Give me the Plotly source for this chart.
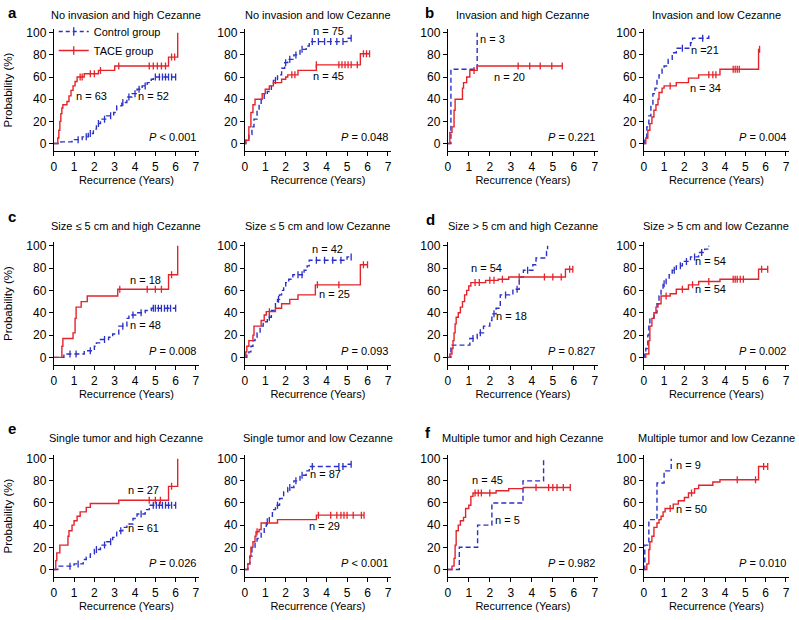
import plotly.graph_objects as go

# ---------------- data ----------------
titles = ["No invasion and high Cezanne", "No invasion and low Cezanne",
          "Invasion and high Cezanne", "Invasion and low Cezanne",
          "Size ≤ 5 cm and high Cezanne", "Size ≤ 5 cm and low Cezanne",
          "Size > 5 cm and high Cezanne", "Size > 5 cm and low Cezanne",
          "Single tumor and high Cezanne", "Single tumor and low Cezanne",
          "Multiple tumor and high Cezanne", "Multiple tumor and low Cezanne"]
p_values = ["<i>P</i> &lt; 0.001", "<i>P</i> = 0.048", "<i>P</i> = 0.221", "<i>P</i> = 0.004",
            "<i>P</i> = 0.008", "<i>P</i> = 0.093", "<i>P</i> = 0.827", "<i>P</i> = 0.002",
            "<i>P</i> = 0.026", "<i>P</i> &lt; 0.001", "<i>P</i> = 0.982", "<i>P</i> = 0.010"]
panel_letters = ["a", "b", "c", "d", "e", "f"]
x_ticks = [0, 1, 2, 3, 4, 5, 6, 7]
y_ticks = [0, 20, 40, 60, 80, 100]

# Control group (blue) / TACE group (red): event times, cumulative probability (%), censor times
A1_ctrl_t = [0.35, 0.9, 1.4, 1.7, 1.95, 2.1, 2.3, 2.6, 2.95, 3.1, 3.35, 3.6, 3.85, 4.1, 4.35, 4.6, 4.8, 4.9]
A1_ctrl_p = [1.5, 3.5, 6, 9, 13, 18, 22, 25, 28, 34, 37, 42, 45, 49, 52, 55, 58, 60]
A1_ctrl_c = [1.2, 1.6, 1.8, 2.2, 2.5, 2.8, 3.4, 3.7, 4.0, 4.2, 4.5, 5.0, 5.2, 5.35, 5.5, 5.65, 5.8, 6.0]
A1_tace_t = [0.2, 0.25, 0.3, 0.35, 0.4, 0.45, 0.65, 0.75, 0.85, 0.95, 1.05, 1.15, 1.5, 2.2, 3.0, 5.65, 6.1]
A1_tace_p = [5, 12, 20, 27, 32, 35, 38, 43, 48, 52, 56, 60, 63, 66, 70, 78, 100]
A1_tace_c = [1.3, 1.4, 1.8, 2.0, 2.3, 3.2, 4.7, 4.9, 5.1, 5.3, 5.5, 5.8, 5.95]

A2_ctrl_t = [0.05, 0.2, 0.35, 0.45, 0.6, 0.7, 0.8, 0.95, 1.1, 1.3, 1.4, 1.6, 1.8, 1.95, 2.1, 2.4, 2.7, 3.0, 3.15, 5.0]
A2_ctrl_p = [3, 8, 15, 22, 30, 35, 40, 44, 47, 52, 57, 62, 68, 73, 76, 80, 85, 88, 92, 95]
A2_ctrl_c = [1.5, 2.0, 2.2, 2.5, 2.8, 3.3, 3.6, 3.9, 4.2, 4.5, 4.8, 5.2]
A2_tace_t = [0.05, 0.2, 0.3, 0.4, 0.5, 0.85, 1.0, 1.2, 1.4, 1.8, 2.0, 2.1, 2.6, 3.5, 5.65]
A2_tace_p = [3, 15, 28, 35, 40, 45, 49, 52, 55, 58, 60, 62, 66, 71, 81]
A2_tace_c = [2.3, 2.45, 3.5, 4.6, 4.75, 4.9, 5.05, 5.2, 5.5, 5.8, 5.95, 6.1]

B1_ctrl_t = [0.15, 1.4]
B1_ctrl_p = [67, 100]
B1_ctrl_c = []
B1_tace_t = [0.1, 0.2, 0.3, 0.35, 0.7, 0.75, 0.9, 1.05, 1.4]
B1_tace_p = [10, 15, 30, 40, 50, 55, 60, 66, 70]
B1_tace_c = [1.25, 3.35, 3.9, 4.4, 4.95, 5.45]

B2_ctrl_t = [0.05, 0.15, 0.25, 0.35, 0.45, 0.55, 0.65, 0.75, 0.9, 1.0, 1.2, 1.4, 1.6, 2.3, 2.4, 3.2]
B2_ctrl_p = [5, 15, 25, 35, 45, 50, 57, 62, 67, 70, 76, 82, 86, 91, 95, 100]
B2_ctrl_c = [1.9, 2.9]
B2_tace_t = [0.1, 0.2, 0.3, 0.4, 0.5, 0.6, 0.7, 0.75, 0.9, 1.0, 1.6, 2.2, 2.7, 3.75, 5.65]
B2_tace_p = [5, 12, 18, 24, 30, 35, 40, 46, 50, 52, 55, 59, 62, 67, 85]
B2_tace_c = [1.3, 3.2, 3.4, 3.55, 4.4, 4.5, 4.6, 4.7, 5.7]

C1_ctrl_t = [0.5, 0.6, 1.5, 2.0, 2.1, 2.3, 2.7, 2.9, 3.2, 3.6, 3.7, 4.1, 4.5, 4.8]
C1_ctrl_p = [2, 3, 6, 10, 13, 16, 18, 21, 28, 35, 38, 40, 42, 44]
C1_ctrl_c = [0.8, 1.1, 1.8, 2.5, 3.4, 3.9, 4.3, 4.9, 5.0, 5.15, 5.3, 5.45, 5.6, 5.75, 6.0]
C1_tace_t = [0.4, 0.45, 0.95, 1.05, 1.1, 1.35, 1.65, 3.15, 5.65, 6.1]
C1_tace_p = [10, 17, 22, 35, 45, 50, 55, 61, 74, 100]
C1_tace_c = [3.25, 4.6, 5.0, 5.3, 5.8]

C2_ctrl_t = [0.1, 0.2, 0.3, 0.4, 0.5, 0.6, 0.75, 0.9, 1.1, 1.3, 1.5, 1.6, 1.7, 1.8, 1.9, 2.0, 2.15, 2.35, 2.9, 3.05, 3.15, 5.0]
C2_ctrl_p = [2, 5, 10, 15, 18, 22, 28, 32, 36, 42, 48, 52, 56, 60, 64, 67, 70, 74, 78, 82, 87, 90]
C2_ctrl_c = [1.2, 1.65, 2.6, 2.8, 3.5, 3.9, 4.3, 4.7, 5.2]
C2_tace_t = [0.05, 0.1, 0.2, 0.4, 0.45, 0.8, 0.95, 1.05, 1.5, 1.8, 2.2, 2.6, 3.45, 5.65]
C2_tace_p = [5, 10, 15, 20, 28, 33, 38, 41, 44, 48, 52, 56, 65, 83]
C2_tace_c = [1.2, 3.55, 4.6, 5.8, 6.0]

D1_ctrl_t = [0.15, 1.05, 1.4, 1.7, 2.0, 2.1, 2.3, 2.5, 3.1, 3.4, 3.6, 4.05, 4.2, 4.7, 4.75]
D1_ctrl_p = [11, 17, 22, 28, 33, 39, 44, 56, 61, 72, 78, 83, 89, 95, 100]
D1_ctrl_c = [1.2, 1.55, 2.2, 2.75, 3.3, 3.8]
D1_tace_t = [0.1, 0.2, 0.25, 0.3, 0.35, 0.4, 0.5, 0.6, 0.7, 0.8, 0.9, 1.0, 1.1, 1.8, 2.4, 2.9, 5.6]
D1_tace_p = [3, 8, 15, 22, 30, 36, 40, 45, 50, 56, 60, 64, 67, 69, 70, 72, 79]
D1_tace_c = [1.3, 1.5, 2.0, 2.2, 2.6, 3.4, 4.6, 5.0, 5.4, 5.8, 5.95]

D2_ctrl_t = [0.05, 0.1, 0.2, 0.25, 0.3, 0.5, 0.65, 0.75, 0.85, 0.95, 1.1, 1.25, 1.4, 1.6, 1.9, 2.3, 2.7, 3.0, 3.2]
D2_ctrl_p = [4, 8, 20, 30, 35, 40, 48, 55, 60, 66, 70, 74, 78, 82, 86, 90, 94, 97, 100]
D2_ctrl_c = [1.0, 1.5, 1.8, 2.1, 2.5, 2.85]
D2_tace_t = [0.1, 0.25, 0.3, 0.4, 0.5, 0.6, 0.7, 0.85, 1.3, 1.6, 2.2, 2.7, 3.75, 5.65]
D2_tace_p = [3, 15, 28, 35, 40, 45, 48, 55, 57, 61, 65, 68, 70, 79]
D2_tace_c = [1.1, 1.9, 2.4, 3.2, 4.4, 4.5, 4.6, 4.75, 4.9, 5.8, 6.1]

E1_ctrl_t = [0.2, 1.0, 1.45, 1.6, 1.8, 2.0, 2.3, 2.6, 2.9, 3.1, 3.4, 3.6, 3.9, 4.1, 4.5, 4.7]
E1_ctrl_p = [3, 5, 9, 11, 14, 18, 22, 25, 29, 35, 38, 41, 46, 50, 54, 58]
E1_ctrl_c = [0.8, 1.2, 2.1, 2.5, 2.8, 3.3, 4.3, 4.9, 5.05, 5.2, 5.35, 5.5, 5.65, 5.8, 6.0]
E1_tace_t = [0.1, 0.15, 0.3, 0.7, 0.75, 0.9, 1.0, 1.15, 1.3, 1.6, 1.8, 3.2, 5.65, 6.1]
E1_tace_p = [8, 15, 22, 30, 35, 40, 44, 48, 52, 56, 59.5, 62.5, 75, 100]
E1_tace_c = [4.7, 5.0, 5.25, 5.8]

E2_ctrl_t = [0.15, 0.25, 0.35, 0.5, 0.6, 0.8, 0.95, 1.05, 1.2, 1.35, 1.5, 1.7, 1.9, 2.1, 2.4, 2.7, 3.0, 3.15, 5.0]
E2_ctrl_p = [5, 12, 20, 25, 28, 33, 38, 43, 48, 54, 58, 64, 70, 74, 80, 85, 89, 93, 95]
E2_ctrl_c = [1.1, 1.6, 2.2, 2.5, 2.8, 3.3, 4.6, 4.8, 5.2]
E2_tace_t = [0.15, 0.25, 0.3, 0.4, 0.5, 0.55, 0.7, 0.8, 1.6, 3.5]
E2_tace_p = [5, 12, 20, 25, 30, 34, 36, 42, 45, 49]
E2_tace_c = [0.6, 3.6, 4.2, 4.5, 4.7, 4.85, 5.0, 5.3, 5.7, 5.83]

F1_ctrl_t = [0.55, 1.42, 2.1, 3.58, 4.56]
F1_ctrl_p = [20, 40, 60, 80, 100]
F1_ctrl_c = []
F1_tace_t = [0.2, 0.3, 0.35, 0.4, 0.5, 0.6, 0.75, 0.85, 1.0, 1.1, 1.2, 2.3, 2.9, 3.6]
F1_tace_p = [3, 10, 22, 35, 40, 44, 47, 55, 58, 66, 69, 71, 73, 74]
F1_tace_c = [1.3, 1.45, 1.6, 2.0, 4.2, 4.8, 5.0, 5.2, 5.5, 5.83]

F2_ctrl_t = [0.05, 0.25, 0.65, 1.0, 1.35]
F2_ctrl_p = [22, 45, 78, 89, 100]
F2_ctrl_c = []
F2_tace_t = [0.15, 0.25, 0.3, 0.4, 0.5, 0.65, 0.75, 0.85, 0.95, 1.05, 1.45, 1.7, 2.0, 2.2, 2.5, 2.7, 3.4, 3.75, 5.65]
F2_tace_p = [5, 18, 25, 30, 38, 42, 45, 48, 52, 55, 59, 62, 65, 69, 73, 76, 79, 81, 93]
F2_tace_c = [1.3, 2.35, 4.6, 5.5, 5.9, 6.1]

# n labels: (text, x, y) for control and TACE
n_ctrl = [("n = 52", 4.93, 43), ("n = 75", 4.07, 102), ("n = 3", 2.12, 94), ("n =21", 2.99, 84.5),
          ("n = 48", 4.53, 29), ("n = 42", 4.04, 97), ("n = 18", 3.02, 37), ("n = 54", 3.26, 86),
          ("n = 61", 4.43, 37), ("n = 87", 3.95, 86), ("n = 5", 2.85, 45), ("n = 9", 2.19, 94)]
n_tace = [("n = 63", 1.87, 43), ("n = 45", 4.07, 61), ("n = 20", 2.94, 60.5), ("n = 34", 3.05, 50.5),
          ("n = 18", 4.53, 69), ("n = 25", 4.39, 57), ("n = 54", 1.86, 80), ("n = 54", 3.26, 61),
          ("n = 27", 4.43, 72), ("n = 29", 3.92, 39), ("n = 45", 1.9, 81), ("n = 50", 2.35, 55)]

ctrl_series = [(A1_ctrl_t, A1_ctrl_p, A1_ctrl_c), (A2_ctrl_t, A2_ctrl_p, A2_ctrl_c),
               (B1_ctrl_t, B1_ctrl_p, B1_ctrl_c), (B2_ctrl_t, B2_ctrl_p, B2_ctrl_c),
               (C1_ctrl_t, C1_ctrl_p, C1_ctrl_c), (C2_ctrl_t, C2_ctrl_p, C2_ctrl_c),
               (D1_ctrl_t, D1_ctrl_p, D1_ctrl_c), (D2_ctrl_t, D2_ctrl_p, D2_ctrl_c),
               (E1_ctrl_t, E1_ctrl_p, E1_ctrl_c), (E2_ctrl_t, E2_ctrl_p, E2_ctrl_c),
               (F1_ctrl_t, F1_ctrl_p, F1_ctrl_c), (F2_ctrl_t, F2_ctrl_p, F2_ctrl_c)]
tace_series = [(A1_tace_t, A1_tace_p, A1_tace_c), (A2_tace_t, A2_tace_p, A2_tace_c),
               (B1_tace_t, B1_tace_p, B1_tace_c), (B2_tace_t, B2_tace_p, B2_tace_c),
               (C1_tace_t, C1_tace_p, C1_tace_c), (C2_tace_t, C2_tace_p, C2_tace_c),
               (D1_tace_t, D1_tace_p, D1_tace_c), (D2_tace_t, D2_tace_p, D2_tace_c),
               (E1_tace_t, E1_tace_p, E1_tace_c), (E2_tace_t, E2_tace_p, E2_tace_c),
               (F1_tace_t, F1_tace_p, F1_tace_c), (F2_tace_t, F2_tace_p, F2_tace_c)]

# ---------------- styling / layout ----------------
BLUE = "#2b30c6"
RED = "#e4232a"
FONT = "Liberation Sans, Arial, sans-serif"
W, H = 799, 620
col_px = [(51, 197), (243, 390), (447, 598), (644, 790)]
row_px = [(26, 149), (240, 364), (454, 577)]
title_y_px = [12, 224, 437]
letter_px = [(3, 10), (422, 10), (3, 215), (423, 218), (3, 428), (422, 432)]


def step_value(t, p, x):
    v = 0
    for ti, pi in zip(t, p):
        if ti <= x:
            v = pi
    return v


fig = go.Figure()

for i in range(12):
    r, c = divmod(i, 4)
    sfx = "" if i == 0 else str(i + 1)
    xa, ya = "x" + sfx, "y" + sfx
    for (t, p, cens), color, dash in [(ctrl_series[i], BLUE, "5px,3px"), (tace_series[i], RED, "solid")]:
        end = max(list(t) + list(cens))
        xs = [0] + list(t) + [end]
        ys = [0] + list(p) + [p[-1]]
        fig.add_trace(go.Scatter(x=xs, y=ys, mode="lines", line_shape="hv",
                                 line=dict(color=color, width=1.4, dash=dash),
                                 xaxis=xa, yaxis=ya, showlegend=False, hoverinfo="skip"))
        if cens:
            fig.add_trace(go.Scatter(x=cens, y=[step_value(t, p, cx) for cx in cens], mode="markers",
                                     marker=dict(symbol="line-ns", size=5, line=dict(color=color, width=1.3)),
                                     xaxis=xa, yaxis=ya, showlegend=False, hoverinfo="skip"))

    x0, x1 = col_px[c]
    y0, y1 = row_px[r]
    fig.layout["xaxis" + sfx] = dict(
        domain=[x0 / W, x1 / W], anchor=ya, range=[0, 7.15], tickvals=x_ticks,
        ticks="outside", ticklen=4, tickwidth=1, tickcolor="black", showline=True,
        linecolor="black", linewidth=1, showgrid=False, zeroline=False,
        tickfont=dict(size=12, color="black", family=FONT),
        title=dict(text="Recurrence (Years)", font=dict(size=11, color="black", family=FONT), standoff=3))
    fig.layout["yaxis" + sfx] = dict(
        domain=[1 - y1 / H, 1 - y0 / H], anchor=xa, range=[-7, 103.5], tickvals=y_ticks,
        ticks="outside", ticklen=4, tickwidth=1, tickcolor="black", showline=True,
        linecolor="black", linewidth=1, showgrid=False, zeroline=False,
        tickfont=dict(size=12, color="black", family=FONT),
        title=dict(text="Probability (%)" if c == 0 else "", font=dict(size=11.5, color="black", family=FONT), standoff=11))

    fig.add_annotation(text=titles[i], xref=xa + " domain", yref="paper", x=0.5, y=1 - title_y_px[r] / H,
                       xanchor="center", yanchor="middle", showarrow=False,
                       font=dict(size=11, color="black", family=FONT))
    fig.add_annotation(text=p_values[i], xref=xa, yref=ya, x=7.12, y=6, xanchor="right", yanchor="middle",
                       showarrow=False, font=dict(size=11, color="black", family=FONT))
    for txt, nx, ny in (n_ctrl[i], n_tace[i]):
        fig.add_annotation(text=txt, xref=xa, yref=ya, x=nx, y=ny, xanchor="center", yanchor="middle",
                           showarrow=False, font=dict(size=11, color="black", family=FONT))

for letter, (lx, ly) in zip(panel_letters, letter_px):
    fig.add_annotation(text="<b>" + letter + "</b>", xref="paper", yref="paper", x=lx / W, y=1 - ly / H,
                       xanchor="left", yanchor="middle", showarrow=False,
                       font=dict(size=15, color="black", family=FONT))

# legend entries
fig.add_trace(go.Scatter(x=[None], y=[None], mode="lines+markers", name="Control group",
                         line=dict(color=BLUE, width=1.4, dash="4px,3px"),
                         marker=dict(symbol="line-ns", size=6, line=dict(color=BLUE, width=1.3))))
fig.add_trace(go.Scatter(x=[None], y=[None], mode="lines+markers", name="TACE group",
                         line=dict(color=RED, width=1.4),
                         marker=dict(symbol="line-ns", size=6, line=dict(color=RED, width=1.3))))

fig.update_layout(
    width=W, height=H, margin=dict(l=0, r=0, t=0, b=0),
    paper_bgcolor="white", plot_bgcolor="white",
    font=dict(family=FONT, color="black", size=11),
    showlegend=True,
    legend=dict(x=51 / W, y=1 - 14 / H, xanchor="left", yanchor="top", bgcolor="rgba(0,0,0,0)",
                itemwidth=30, font=dict(size=11, color="black", family=FONT),
                tracegroupgap=0, borderwidth=0),
)

fig.write_html("out.html", config={"displayModeBar": False},
               post_script="document.body.style.margin='0';document.body.style.padding='0';")
